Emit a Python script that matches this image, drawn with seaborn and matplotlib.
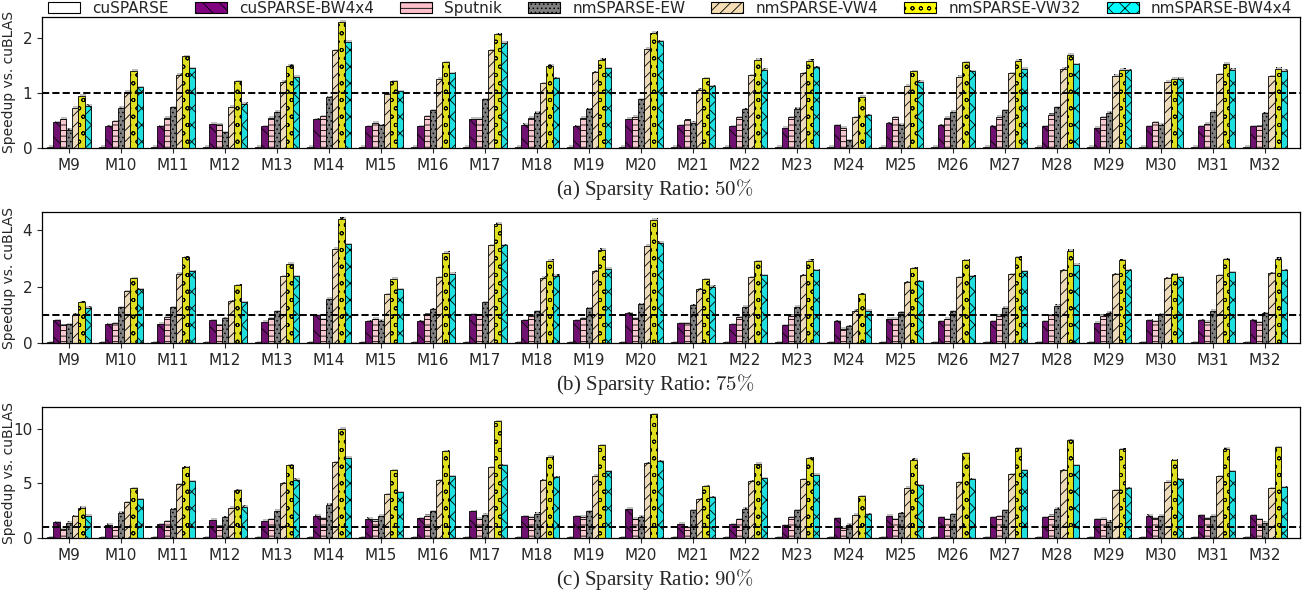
import matplotlib
matplotlib.use("Agg")
import matplotlib.pyplot as plt
import matplotlib.patches as mpatches
import matplotlib.patheffects as pe
import pandas as pd
import seaborn as sns

matrices = [f"M{i}" for i in range(9, 33)]
methods = ["cuSPARSE", "cuSPARSE-BW4x4", "Sputnik", "nmSPARSE-EW",
           "nmSPARSE-VW4", "nmSPARSE-VW32", "nmSPARSE-BW4x4"]
colors = ["white", "purple", "pink", "gray", "wheat", "yellow", "cyan"]
hatches = ["", "\\\\", "---", "....", "///", "oo", "xx"]

# sparsity 50%
cus_50 = [0.02] * 24
cubw_50 = [0.47, 0.39, 0.39, 0.44, 0.40, 0.52, 0.39, 0.40, 0.53, 0.42, 0.40, 0.53,
           0.41, 0.39, 0.37, 0.41, 0.45, 0.41, 0.40, 0.40, 0.37, 0.40, 0.40, 0.40]
sput_50 = [0.53, 0.48, 0.55, 0.42, 0.55, 0.58, 0.46, 0.58, 0.53, 0.55, 0.55, 0.57,
           0.50, 0.56, 0.56, 0.37, 0.56, 0.55, 0.57, 0.60, 0.56, 0.47, 0.44, 0.40]
ew_50 = [0.33, 0.73, 0.74, 0.29, 0.66, 0.92, 0.41, 0.68, 0.88, 0.64, 0.70, 0.88,
         0.46, 0.70, 0.71, 0.14, 0.42, 0.66, 0.68, 0.74, 0.64, 0.42, 0.66, 0.63]
vw4_50 = [0.73, 1.02, 1.33, 0.75, 1.20, 1.77, 0.98, 1.26, 1.77, 1.17, 1.37, 1.80,
          1.06, 1.32, 1.36, 0.56, 1.13, 1.29, 1.36, 1.44, 1.31, 1.20, 1.34, 1.30]
vw32_50 = [0.95, 1.40, 1.67, 1.21, 1.49, 2.29, 1.21, 1.56, 2.06, 1.49, 1.60, 2.09,
           1.27, 1.60, 1.58, 0.93, 1.39, 1.56, 1.58, 1.69, 1.42, 1.26, 1.53, 1.44]
nmbw_50 = [0.77, 1.10, 1.45, 0.80, 1.29, 1.93, 1.03, 1.36, 1.91, 1.27, 1.45, 1.94,
           1.12, 1.42, 1.47, 0.59, 1.20, 1.39, 1.44, 1.52, 1.41, 1.26, 1.42, 1.40]

# sparsity 75%
cus_75 = [0.03] * 24
cubw_75 = [0.82, 0.68, 0.69, 0.81, 0.76, 0.99, 0.78, 0.79, 1.02, 0.82, 0.81, 1.06,
           0.71, 0.67, 0.63, 0.78, 0.87, 0.79, 0.78, 0.78, 0.73, 0.81, 0.81, 0.81]
sput_75 = [0.65, 0.71, 0.94, 0.65, 0.88, 0.86, 0.87, 1.01, 0.99, 0.96, 0.88, 0.88,
           0.71, 0.92, 0.98, 0.51, 0.87, 0.87, 0.98, 1.00, 0.97, 0.78, 0.77, 0.74]
ew_75 = [0.67, 1.28, 1.28, 0.88, 1.13, 1.58, 0.80, 1.20, 1.45, 1.14, 1.25, 1.38,
         1.34, 1.29, 1.29, 0.60, 1.09, 1.14, 1.26, 1.33, 1.08, 1.03, 1.16, 1.07]
vw4_75 = [1.01, 1.85, 2.47, 1.49, 2.38, 3.35, 1.73, 2.33, 3.47, 2.32, 2.55, 3.46,
          1.92, 2.34, 2.42, 1.16, 2.16, 2.34, 2.45, 2.59, 2.45, 2.31, 2.41, 2.49]
vw32_75 = [1.45, 2.31, 3.05, 2.05, 2.82, 4.41, 2.29, 3.21, 4.24, 2.93, 3.32, 4.38,
           2.27, 2.91, 2.93, 1.74, 2.65, 2.94, 3.06, 3.28, 2.94, 2.45, 2.97, 3.00]
nmbw_75 = [1.26, 1.91, 2.55, 1.46, 2.38, 3.51, 1.92, 2.47, 3.47, 2.39, 2.64, 3.56,
           2.00, 2.42, 2.58, 1.16, 2.20, 2.37, 2.55, 2.79, 2.58, 2.35, 2.52, 2.58]

# sparsity 90%
cus_90 = [0.08] * 24
cubw_90 = [1.41, 1.22, 1.28, 1.68, 1.59, 2.05, 1.77, 1.83, 2.42, 1.99, 1.99, 2.69,
           1.31, 1.28, 1.19, 1.80, 2.05, 1.87, 1.90, 1.90, 1.71, 2.05, 2.08, 2.08]
sput_90 = [0.80, 1.00, 1.53, 1.04, 1.71, 1.80, 1.56, 2.05, 1.77, 1.87, 1.93, 1.77,
           1.00, 1.71, 1.87, 0.95, 1.71, 1.71, 1.99, 2.05, 1.74, 1.80, 1.83, 1.71]
ew_90 = [1.38, 2.32, 2.60, 1.87, 2.48, 3.03, 2.05, 2.42, 2.14, 2.23, 2.42, 1.93,
         2.51, 2.69, 2.54, 1.22, 2.26, 2.17, 2.51, 2.66, 1.50, 2.05, 2.05, 1.38]
vw4_90 = [1.96, 3.24, 4.92, 2.78, 4.98, 6.94, 3.98, 5.29, 6.48, 5.26, 5.69, 6.82,
          3.52, 5.20, 5.38, 2.14, 4.59, 5.11, 5.81, 6.18, 4.37, 5.14, 5.63, 4.56]
vw32_90 = [2.78, 4.53, 6.45, 4.34, 6.67, 10.0, 6.18, 7.92, 10.7, 7.43, 8.47, 11.3,
           4.74, 6.79, 7.28, 3.79, 7.16, 7.77, 8.20, 8.93, 8.10, 7.09, 8.17, 8.29]
nmbw_90 = [2.05, 3.52, 5.20, 2.87, 5.32, 7.34, 4.16, 5.63, 6.67, 5.54, 6.12, 7.00,
           3.70, 5.44, 5.78, 2.17, 4.80, 5.38, 6.21, 6.64, 4.53, 5.35, 6.12, 4.65]

panels = [
    ("(a) Sparsity Ratio: $50\\%$", [cus_50, cubw_50, sput_50, ew_50, vw4_50, vw32_50, nmbw_50], 2.38, [0, 1, 2]),
    ("(b) Sparsity Ratio: $75\\%$", [cus_75, cubw_75, sput_75, ew_75, vw4_75, vw32_75, nmbw_75], 4.65, [0, 2, 4]),
    ("(c) Sparsity Ratio: $90\\%$", [cus_90, cubw_90, sput_90, ew_90, vw4_90, vw32_90, nmbw_90], 11.95, [0, 5, 10]),
]


def long_frame(series):
    rows = []
    for method, vals in zip(methods, series):
        for m, v in zip(matrices, vals):
            rows.append({"matrix": m, "method": method, "speedup": v})
    return pd.DataFrame(rows)


def main():
    sns.set_style("ticks")
    plt.rcParams["font.family"] = ["DejaVu Sans"]
    plt.rcParams["mathtext.fontset"] = "cm"
    plt.rcParams["hatch.linewidth"] = 0.6

    fig = plt.figure(figsize=(13.1, 5.99), dpi=100)
    boxes = [(0.032, 0.753, 0.960, 0.219),
             (0.032, 0.427, 0.960, 0.219),
             (0.032, 0.102, 0.960, 0.218)]
    caption_y = [0.683, 0.358, 0.032]
    shadow = [pe.SimplePatchShadow(offset=(1.0, 1.0), shadow_rgbFace="#999999", alpha=0.6),
              pe.Normal()]

    for (caption, series, ytop, yticks), box, cy in zip(panels, boxes, caption_y):
        ax = fig.add_axes(box)
        df = long_frame(series)
        sns.barplot(data=df, x="matrix", y="speedup", hue="method",
                    hue_order=methods, order=matrices, palette=colors,
                    width=0.84, edgecolor="black", linewidth=0.6,
                    legend=False, ax=ax)
        for cont, h in zip(ax.containers, hatches):
            for bar in cont:
                bar.set_hatch(h)
                bar.set_path_effects(shadow)
        ax.axhline(1.0, color="black", linestyle="--", linewidth=1.4, zorder=3)
        ax.set_xlim(-0.52, 23.66)
        ax.set_ylim(0, ytop)
        ax.set_yticks(yticks)
        ax.set_xlabel("")
        ax.set_ylabel("Speedup vs. cuBLAS", fontsize=10)
        ax.yaxis.set_label_coords(-0.021, 0.5)
        ax.tick_params(axis="both", labelsize=11, length=3.5, width=0.8)
        for sp in ax.spines.values():
            sp.set_visible(True)
            sp.set_color("black")
            sp.set_linewidth(0.9)
        fig.text(0.5, cy, caption, ha="center", va="center",
                 family="Liberation Serif", fontsize=15)

    handles = [mpatches.Patch(facecolor=c, edgecolor="black", hatch=h, linewidth=0.8, label=m)
               for m, c, h in zip(methods, colors, hatches)]
    fig.legend(handles=handles, loc="upper center", bbox_to_anchor=(0.5115, 1.0),
               ncol=7, frameon=False, fontsize=11, handlelength=2.1,
               handleheight=0.75, columnspacing=1.7, handletextpad=0.8,
               borderpad=0.05, borderaxespad=0.0)

    fig.savefig("out.png", dpi=100)


if __name__ == "__main__":
    main()
